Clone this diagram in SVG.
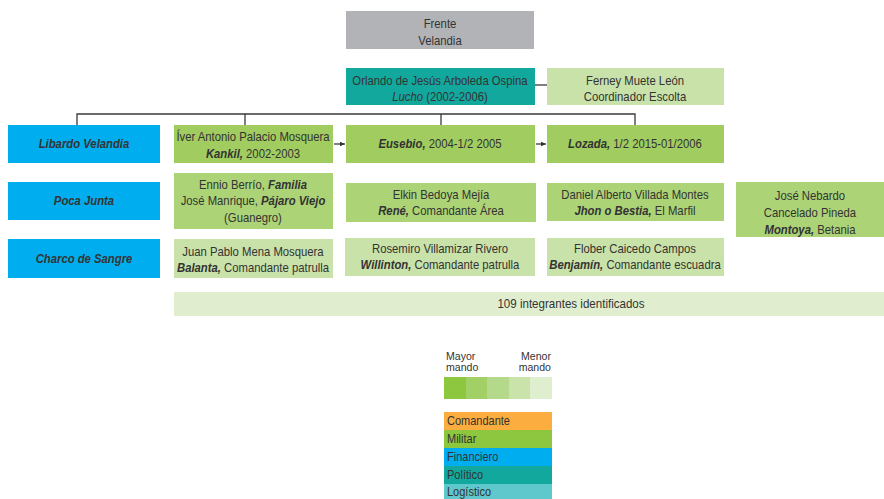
<svg xmlns="http://www.w3.org/2000/svg" width="884" height="499" viewBox="0 0 884 499">
  <defs>
    <marker id="arrow" markerWidth="6" markerHeight="6" refX="5" refY="3" orient="auto" markerUnits="userSpaceOnUse">
      <path d="M0,0.8 L5,3 L0,5.2 Z" fill="#333"/>
    </marker>
    <style>
      text { font-family: "Liberation Sans", Arial, sans-serif; font-size: 13px; fill: #333; text-anchor: middle; }
      .i { font-style: italic; font-weight: bold; }
      .it { font-style: italic; }
      .l { text-anchor: start; }
      .r { text-anchor: end; }
      .sm { font-size: 11.5px; }
      .lg { font-size: 12.5px; }
      .conn { stroke: #3a3a3a; stroke-width: 1.3; fill: none; }
      .gray { fill: #b2b3b7; }
      .teal { fill: #12a89d; }
      .blue { fill: #00aeef; }
      .g1 { fill: #a1cc5f; }
      .g2 { fill: #acd477; }
      .g3 { fill: #c9e2a9; }
      .g4 { fill: #e0eecf; }
    </style>
  </defs>
  <rect width="884" height="499" fill="#fff"/>

  <!-- connectors -->
  <g id="connectors">
    <line class="conn" x1="535" y1="85" x2="547" y2="85"/>
    <polyline class="conn" points="77,125 77,114 635,114 635,125"/>
    <line class="conn" x1="245" y1="114" x2="245" y2="125"/>
    <line class="conn" x1="441" y1="114" x2="441" y2="125"/>
    <line class="conn" x1="334" y1="144" x2="345" y2="144" marker-end="url(#arrow)"/>
    <line class="conn" x1="536" y1="144" x2="546" y2="144" marker-end="url(#arrow)"/>
  </g>

  <!-- labels are narrowed horizontally about each box centre (matrix 0.87 0 0 1 0.13*cx 0) -->
  <g id="frente">
    <rect class="gray" x="346" y="11" width="188" height="38"/>
    <g transform="matrix(0.87 0 0 1 57.2 0)">
      <text x="440" y="28.5">Frente</text>
      <text x="440" y="45">Velandia</text>
    </g>
  </g>
  <g id="orlando">
    <rect class="teal" x="346" y="68" width="189" height="37"/>
    <g transform="matrix(0.87 0 0 1 57.2 0)">
      <text x="440" y="85.5">Orlando de Jesús Arboleda Ospina</text>
      <text x="440" y="101.5"><tspan class="it">Lucho</tspan> (2002-2006)</text>
    </g>
  </g>
  <g id="ferney">
    <rect class="g3" x="547" y="68" width="177" height="37"/>
    <g transform="matrix(0.87 0 0 1 82.55 0)">
      <text x="635" y="85.5">Ferney Muete León</text>
      <text x="635" y="101.5">Coordinador Escolta</text>
    </g>
  </g>

  <g id="libardo">
    <rect class="blue" x="8" y="125" width="152" height="38"/>
    <g transform="matrix(0.87 0 0 1 10.92 0)">
      <text class="i" x="84" y="148">Libardo Velandia</text>
    </g>
  </g>
  <g id="iver">
    <rect class="g1" x="174" y="125" width="159" height="38"/>
    <g transform="matrix(0.87 0 0 1 32.89 0)">
      <text x="253" y="141.5">Íver Antonio Palacio Mosquera</text>
      <text x="253" y="158">
        <tspan class="i">Kankil,</tspan> 2002-2003</text>
    </g>
  </g>
  <g id="eusebio">
    <rect class="g1" x="346" y="125" width="189" height="38"/>
    <g transform="matrix(0.87 0 0 1 57.2 0)">
      <text x="440" y="148"><tspan class="i">Eusebio,</tspan> 2004-1/2 2005</text>
    </g>
  </g>
  <g id="lozada">
    <rect class="g1" x="547" y="125" width="177" height="38"/>
    <g transform="matrix(0.87 0 0 1 82.55 0)">
      <text x="635" y="148"><tspan class="i">Lozada,</tspan> 1/2 2015-01/2006</text>
    </g>
  </g>

  <g id="poca-junta">
    <rect class="blue" x="8" y="182" width="152" height="38"/>
    <g transform="matrix(0.87 0 0 1 10.92 0)">
      <text class="i" x="84" y="205">Poca Junta</text>
    </g>
  </g>
  <g id="ennio">
    <rect class="g2" x="174" y="173" width="159" height="56"/>
    <g transform="matrix(0.87 0 0 1 32.89 0)">
      <text x="253" y="189">Ennio Berrío, <tspan class="i">Familia</tspan></text>
      <text x="253" y="205.5">José Manrique, <tspan class="i">Pájaro Viejo</tspan></text>
      <text x="253" y="222.5">(Guanegro)</text>
    </g>
  </g>
  <g id="elkin">
    <rect class="g2" x="346" y="183" width="190" height="39"/>
    <g transform="matrix(0.87 0 0 1 57.33 0)">
      <text x="441" y="199">Elkin Bedoya Mejía</text>
      <text x="441" y="215"><tspan class="i">René,</tspan> Comandante Área</text>
    </g>
  </g>
  <g id="daniel">
    <rect class="g2" x="547" y="183" width="177" height="38"/>
    <g transform="matrix(0.87 0 0 1 82.55 0)">
      <text x="635" y="199">Daniel Alberto Villada Montes</text>
      <text x="635" y="215"><tspan class="i">Jhon o Bestia,</tspan> El Marfil</text>
    </g>
  </g>
  <g id="jose-nebardo">
    <rect class="g2" x="736" y="182" width="148" height="55"/>
    <g transform="matrix(0.87 0 0 1 105.3 0)">
      <text x="810" y="200.5">José Nebardo</text>
      <text x="810" y="217.5">Cancelado Pineda</text>
      <text x="810" y="234"><tspan class="i">Montoya,</tspan> Betania</text>
    </g>
  </g>

  <g id="charco">
    <rect class="blue" x="8" y="239" width="152" height="39"/>
    <g transform="matrix(0.87 0 0 1 10.92 0)">
      <text class="i" x="84" y="263">Charco de Sangre</text>
    </g>
  </g>
  <g id="juan-pablo">
    <rect class="g3" x="174" y="239" width="159" height="39"/>
    <g transform="matrix(0.87 0 0 1 32.89 0)">
      <text x="253" y="256">Juan Pablo Mena Mosquera</text>
      <text x="253" y="272"><tspan class="i">Balanta,</tspan> Comandante patrulla</text>
    </g>
  </g>
  <g id="rosemiro">
    <rect class="g3" x="345" y="238" width="190" height="38"/>
    <g transform="matrix(0.87 0 0 1 57.2 0)">
      <text x="440" y="253">Rosemiro Villamizar Rivero</text>
      <text x="440" y="269.5"><tspan class="i">Willinton,</tspan> Comandante patrulla</text>
    </g>
  </g>
  <g id="flober">
    <rect class="g3" x="547" y="238" width="177" height="38"/>
    <g transform="matrix(0.87 0 0 1 82.55 0)">
      <text x="635" y="253">Flober Caicedo Campos</text>
      <text x="635" y="269.5"><tspan class="i">Benjamín,</tspan> Comandante escuadra</text>
    </g>
  </g>

  <g id="integrantes">
    <rect class="g4" x="174" y="292" width="710" height="24"/>
    <g transform="matrix(0.89 0 0 1 62.81 0)">
      <text x="571" y="308.5">109 integrantes identificados</text>
    </g>
  </g>

  <!-- legend: rank shades and role colours -->
  <g id="legend">
    <g transform="matrix(0.92 0 0 1 35.68 0)">
      <text class="l sm" x="446" y="360.5">Mayor</text>
      <text class="l sm" x="446" y="371.5">mando</text>
    </g>
    <g transform="matrix(0.92 0 0 1 44.08 0)">
      <text class="r sm" x="551" y="360.5">Menor</text>
      <text class="r sm" x="551" y="371.5">mando</text>
    </g>
    <rect x="444" y="377" width="22" height="22" fill="#8dc63f"/>
    <rect x="466" y="377" width="21" height="22" fill="#a2cf66"/>
    <rect x="487" y="377" width="22" height="22" fill="#b5d98a"/>
    <rect x="509" y="377" width="21" height="22" fill="#c9e3ab"/>
    <rect x="530" y="377" width="22" height="22" fill="#e0eed0"/>

    <rect x="444" y="412" width="108" height="18" fill="#fbae3f"/>
    <rect x="444" y="430" width="108" height="18" fill="#8dc63f"/>
    <rect x="444" y="448" width="108" height="18" fill="#00aeef"/>
    <rect x="444" y="466" width="108" height="18" fill="#12a89d"/>
    <rect x="444" y="484" width="108" height="15" fill="#5ec8cd"/>
    <g transform="matrix(0.88 0 0 1 53.64 0)">
      <text class="l lg" x="447" y="425.5">Comandante</text>
      <text class="l lg" x="447" y="443.5">Militar</text>
      <text class="l lg" x="447" y="461.5">Financiero</text>
      <text class="l lg" x="447" y="479">Político</text>
      <text class="l lg" x="447" y="496.5">Logístico</text>
    </g>
  </g>
</svg>
